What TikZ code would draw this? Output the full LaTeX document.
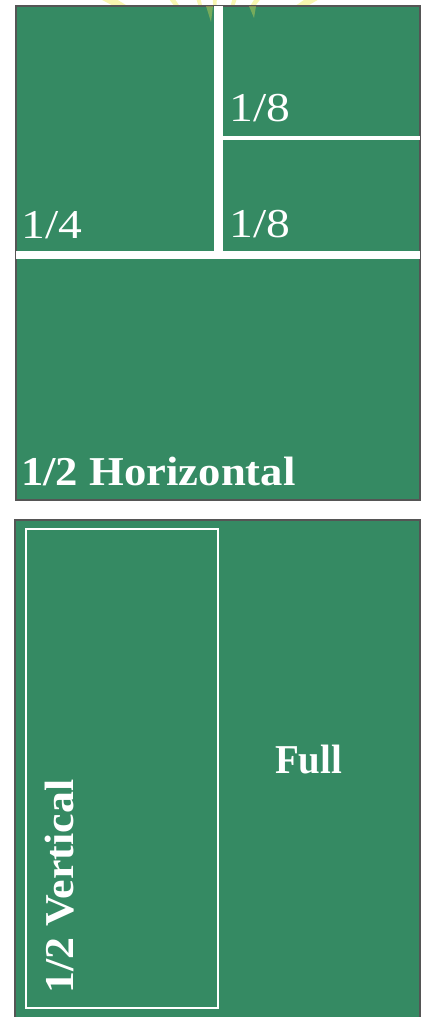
\documentclass[tikz,border=0pt]{standalone}
\usepackage{fontspec}
\setmainfont{Liberation Serif}
\definecolor{boardgreen}{RGB}{53,138,99}
\definecolor{edgegray}{RGB}{85,85,85}
\definecolor{raycol}{RGB}{240,235,80}
\begin{document}
\begin{tikzpicture}[x=1pt,y=-1pt,
  panel/.style={fill=boardgreen,draw=edgegray,line width=1.2pt},
  divider/.style={fill=white,draw=none},
  frac/.style={text=white,inner sep=0pt,anchor=base west,font=\fontsize{41}{48}\selectfont},
  heavy/.style={text=white,inner sep=0pt,anchor=base west,font=\fontsize{41}{48}\selectfont\bfseries},
  ray/.style={fill=raycol,draw=none,opacity=0.45}]
\useasboundingbox (0,0) rectangle (421,1017);
% sun rays behind the top edge
\begin{scope}
\clip (0,0) rectangle (421,8);
\foreach \ang in {-150,-125,-105,-90,-72,-55,-32}{
  \fill[ray] (215,60) -- ++(\ang-2:140) -- ++(\ang+92:9) -- cycle;
}
\end{scope}
% top board
\path[panel] (16,6) rectangle (420,500);
\path[divider] (214,6) rectangle (223,252);
\path[divider] (16,251) rectangle (420,259);
\path[divider] (223,136) rectangle (420,139.5);
% ray tips overlapping the board
\fill[ray,opacity=0.35] (206,6) -- (213,6) -- (211,22) -- cycle;
\fill[ray,opacity=0.35] (249,6) -- (256,6) -- (254,18) -- cycle;
\node[frac,xscale=1.16] (e1) at (229,121) {1/8};
\node[frac,xscale=1.16] (e2) at (229,237) {1/8};
\node[frac,xscale=1.16] (q1) at (21,238) {1/4};
\node[heavy,xscale=1.09] (h1) at (21,485) {1/2 Horizontal};
% bottom board
\path[panel] (15,520) rectangle (420,1020);
\draw[white,line width=1.5pt] (26,529) rectangle (218,1008);
\node[heavy,xscale=0.95] (full) at (275,773) {Full};
\node[heavy,rotate=90,xscale=1.07] (vert) at (73,994) {1/2 Vertical};
\end{tikzpicture}
\end{document}
